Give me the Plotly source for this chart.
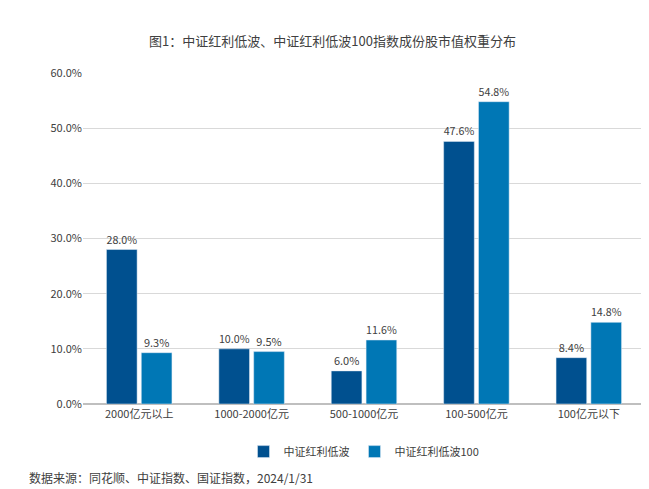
import plotly.graph_objects as go

categories = ["2000亿元以上", "1000-2000亿元", "500-1000亿元", "100-500亿元", "100亿元以下"]
s1_name = "中证红利低波"
s1 = [28.0, 10.0, 6.0, 47.6, 8.4]
s2_name = "中证红利低波100"
s2 = [9.3, 9.5, 11.6, 54.8, 14.8]

fig = go.Figure()
fig.add_bar(x=categories, y=s1, name=s1_name, marker_color="#00508F",
            text=[f"{v:.1f}%" for v in s1], textposition="outside",
            textfont=dict(size=11, color="#404040"), cliponaxis=False)
fig.add_bar(x=categories, y=s2, name=s2_name, marker_color="#0077B5",
            text=[f"{v:.1f}%" for v in s2], textposition="outside",
            textfont=dict(size=11, color="#404040"), cliponaxis=False)

fig.update_layout(
    width=649, height=489, plot_bgcolor="white", paper_bgcolor="white",
    font=dict(family="Noto Sans CJK SC", size=11, color="#404040"),
    title=dict(text="图1：中证红利低波、中证红利低波100指数成份股市值权重分布",
               x=0.5, y=0.94, xanchor="center", font=dict(size=13, color="#404040")),
    margin=dict(l=75, r=12, t=65, b=93, autoexpand=False),
    barmode="group", bargap=0.38, bargroupgap=0.12,
    legend=dict(orientation="h", x=0.5, xanchor="center", y=-0.1, yanchor="top",
                font=dict(size=11), itemwidth=30),
    showlegend=True,
)
fig.update_yaxes(range=[0, 60], dtick=10, ticksuffix=".0%", showgrid=True,
                 gridcolor="#D9D9D9", zeroline=True, zerolinecolor="#BFBFBF",
                 tickfont=dict(size=11))
fig.update_xaxes(showline=True, linecolor="#BFBFBF", tickfont=dict(size=11))
fig.add_annotation(text="数据来源：同花顺、中证指数、国证指数，2024/1/31", xref="paper", yref="paper",
                   x=-0.1, y=-0.19, xanchor="left", yanchor="top", showarrow=False,
                   font=dict(size=12, color="#404040"))
fig.write_html("out.html")
